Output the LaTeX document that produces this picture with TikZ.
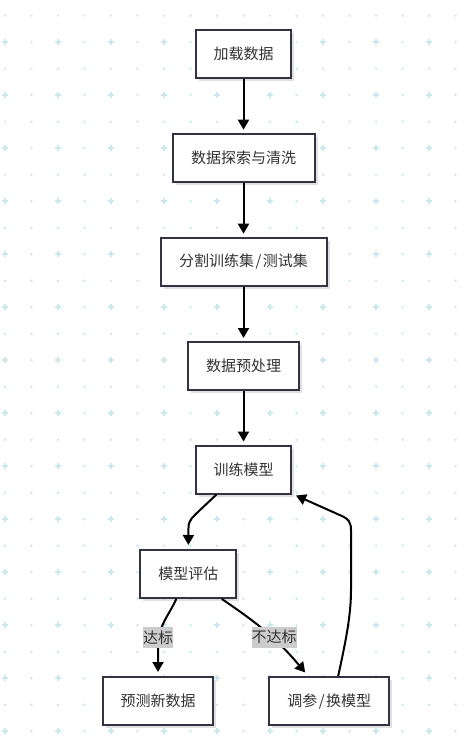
\documentclass[tikz,border=0pt]{standalone}
\usepackage{fontspec}
\setmainfont{Noto Sans CJK SC}
\usetikzlibrary{arrows.meta,shadows}
\definecolor{gridc}{RGB}{205,232,237}
\definecolor{boxborder}{RGB}{51,51,68}
\definecolor{txtc}{RGB}{51,51,51}
\definecolor{lblbg}{RGB}{204,204,204}
\tikzset{
  flowbox/.style={draw=boxborder, line width=2pt, fill=white, inner sep=0pt,
    minimum height=48pt, text=txtc, font=\fontsize{15pt}{18pt}\selectfont,
    drop shadow={shadow xshift=3pt, shadow yshift=-3pt, opacity=0.12, fill=black}},
  arr/.style={draw=black, line width=2pt, -{Triangle[length=10pt,width=11pt]}},
  lbl/.style={fill=lblbg, inner xsep=0pt, inner ysep=0pt, minimum height=21pt,
    text=txtc, font=\fontsize{15pt}{18pt}\selectfont},
  gdot/.style={fill=gridc, draw=none},
  gplus/.style={draw=gridc, line width=1.6pt}
}
\newcommand{\slashsp}{\kern1.5pt/\kern1.5pt}
\begin{document}
\begin{tikzpicture}[x=1pt,y=1pt]
\useasboundingbox (0,0) rectangle (472,-754);
\fill[white] (0,0) rectangle (472,-754);
% background grid
\foreach \i in {0,...,17} {
  \foreach \j in {0,2,...,26} {
    \fill[gdot] ({5+26.5*\i},{-15.7-26.5*\j}) circle (1.3pt);
  }
}
\foreach \i in {1,3,...,17} {
  \foreach \j in {1,3,...,27} {
    \fill[gdot] ({5+26.5*\i},{-15.7-26.5*\j}) circle (1.3pt);
  }
}
\foreach \i in {0,2,...,16} {
  \foreach \j in {1,3,...,27} {
    \draw[gplus] ({5+26.5*\i-3.2},{-15.7-26.5*\j}) -- ++(6.4,0)
                 ({5+26.5*\i},{-15.7-26.5*\j-3.2}) -- ++(0,6.4);
  }
}
% nodes
\node[flowbox, minimum width=95pt]  (m1) at (243.5,-54)    {加载数据};
\node[flowbox, minimum width=142pt] (m2) at (243.5,-157.7) {数据探索与清洗};
\node[flowbox, minimum width=166pt] (m3) at (243.5,-261.7) {分割训练集\slashsp 测试集};
\node[flowbox, minimum width=111pt] (m4) at (243.5,-366)   {数据预处理};
\node[flowbox, minimum width=95pt]  (m5) at (243.5,-469.5) {训练模型};
\node[flowbox, minimum width=96pt]  (m6) at (188.3,-574)   {模型评估};
\node[flowbox, minimum width=110.6pt] (m7) at (158,-701)   {预测新数据};
\node[flowbox, minimum width=119.7pt] (m8) at (329.2,-701) {调参\slashsp 换模型};
% edges
\draw[arr, shorten >=3pt] (m1) -- (m2);
\draw[arr, shorten >=3pt] (m2) -- (m3);
\draw[arr, shorten >=3pt] (m3) -- (m4);
\draw[arr, shorten >=3pt] (m4) -- (m5);
\draw[arr, shorten >=4pt] ([xshift=-27pt]m5.south) -- ++(-17,-16)
   to[out=-135,in=90] ++(-11,-17) -- (m6.north);
\draw[arr, shorten >=4pt] ([xshift=-12pt]m6.south) to[out=-115,in=90]
   ([yshift=30pt]m7.north) -- (m7.north);
\draw[arr] ([xshift=33.5pt]m6.south) to[out=-34,in=130]
   ([xshift=-24pt,yshift=3.5pt]m8.north);
\draw[arr] ([xshift=9pt]m8.north) .. controls (346,-640) and (351,-615) .. (351,-590)
   -- (351,-530) .. controls (351,-522) and (348,-519) .. (343,-516.5)
   -- ([shift={(4pt,-1pt)}]m5.south east);
% edge labels
\node[lbl] (l1) at (158,-637.5) {达标};
\node[lbl] (l2) at (274,-637) {不达标};
\end{tikzpicture}
\end{document}
